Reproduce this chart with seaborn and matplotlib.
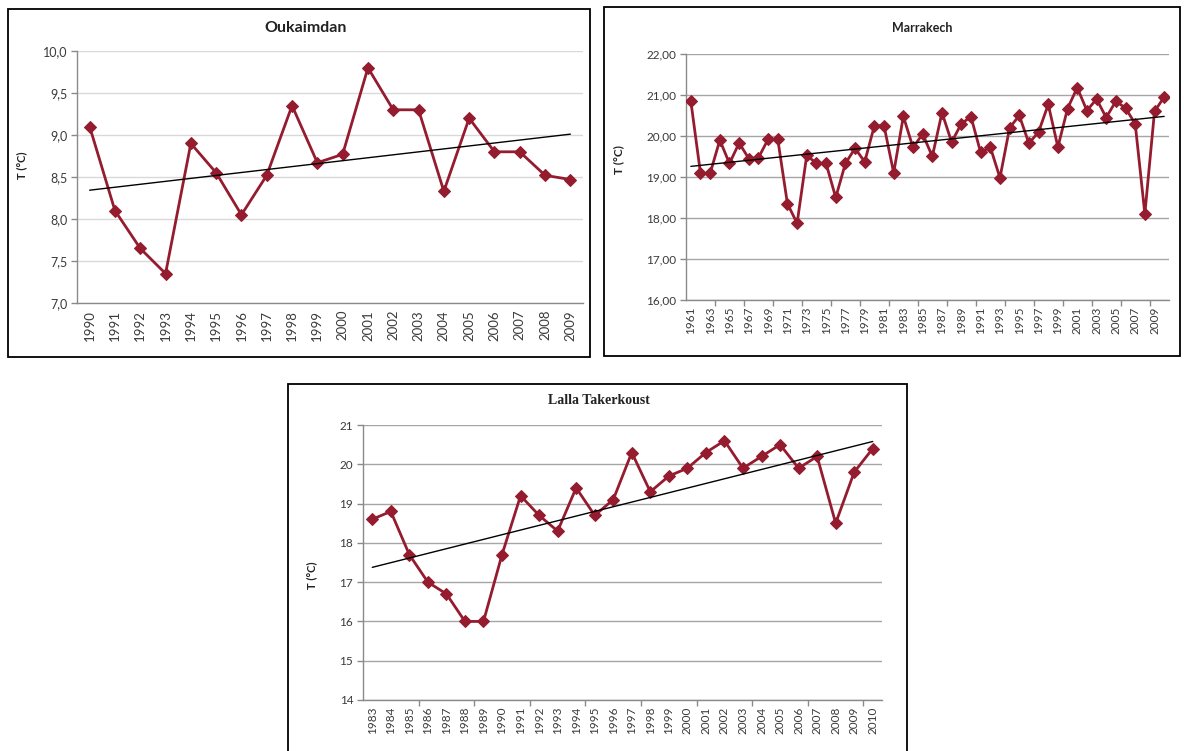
import numpy as np
import pandas as pd
import matplotlib
matplotlib.use("Agg")
import matplotlib.pyplot as plt
import seaborn as sns
from matplotlib.ticker import FuncFormatter, FixedLocator
from matplotlib.patches import Rectangle

# ---------------- data ----------------
ouk_years = list(range(1990, 2010))
ouk_temp = [9.10, 8.10, 7.65, 7.35, 8.90, 8.55, 8.05, 8.52, 9.35, 8.67,
            8.77, 9.80, 9.30, 9.30, 8.33, 9.20, 8.80, 8.80, 8.52, 8.47]

mar_years = list(range(1961, 2011))
mar_temp = [20.85, 19.09, 19.09, 19.90, 19.33, 19.83, 19.45, 19.47, 19.92, 19.92,
            18.35, 17.87, 19.53, 19.33, 19.33, 18.50, 19.33, 19.70, 19.37, 20.25,
            20.25, 19.10, 20.48, 19.72, 20.05, 19.50, 20.57, 19.85, 20.30, 20.47,
            19.60, 19.73, 18.98, 20.20, 20.50, 19.82, 20.10, 20.77, 19.73, 20.67,
            21.18, 20.62, 20.90, 20.45, 20.85, 20.68, 20.30, 18.10, 20.60, 20.95]

lal_years = list(range(1983, 2011))
lal_temp = [18.6, 18.8, 17.7, 17.0, 16.7, 16.0, 16.0, 17.7, 19.2, 18.7,
            18.3, 19.4, 18.7, 19.1, 20.3, 19.3, 19.7, 19.9, 20.3, 20.6,
            19.9, 20.2, 20.5, 19.9, 20.2, 18.5, 19.8, 20.4]

titles = ["Oukaimdan", "Marrakech", "Lalla Takerkoust"]
ylabel = "T (°C)"

# ---------------- style ----------------
sns.set_theme(style="white")
plt.rcParams['font.family'] = ['Lato', 'DejaVu Sans']

W, H = 1184, 751
fig = plt.figure(figsize=(W / 100, H / 100), dpi=100)
fig.patch.set_facecolor("white")

RED = "#951b2f"
TXT = "#3a3a3a"


def px_axes(l, t, r, b):
    return fig.add_axes([l / W, 1 - b / H, (r - l) / W, (b - t) / H])


def border(l, t, r, b):
    fig.add_artist(Rectangle((l / W, 1 - b / H), (r - l) / W, (b - t) / H,
                             transform=fig.transFigure, fill=False,
                             ec="black", lw=1.3))


def panel(ax, years, temps, ylim, ystep, decimals, label_step, tick_group,
          grid_color, tick_fs, xtick_fs):
    n = len(years)
    x = np.arange(n)
    df = pd.DataFrame({"x": x, "t": temps})
    sns.lineplot(data=df, x="x", y="t", ax=ax, color=RED, marker="D",
                 markersize=6.5, markeredgecolor=RED, linewidth=2.0, zorder=3)
    sns.regplot(data=df, x="x", y="t", ax=ax, scatter=False, ci=None,
                color="black", line_kws=dict(linewidth=1.0, zorder=4))
    ax.set_xlim(-0.5, n - 0.5)
    ax.set_ylim(*ylim)
    yt = np.arange(ylim[0], ylim[1] + ystep / 2, ystep)
    ax.set_yticks(yt)
    ax.yaxis.set_major_formatter(FuncFormatter(
        lambda v, p: f"{v:.{decimals}f}".replace(".", ",")))
    ax.yaxis.grid(True, color=grid_color, lw=1.0)
    ax.set_axisbelow(True)
    for s in ["top", "right"]:
        ax.spines[s].set_visible(False)
    for s in ["left", "bottom"]:
        ax.spines[s].set_color("#8a8a8a")
        ax.spines[s].set_linewidth(1.0)
    ax.set_xticks(x[::label_step])
    ax.set_xticklabels([str(y) for y in years[::label_step]], rotation=90)
    ax.tick_params(axis="x", which="major", length=0, pad=5,
                   labelsize=xtick_fs, labelcolor=TXT)
    if tick_group:
        ax.xaxis.set_minor_locator(FixedLocator(
            np.arange(tick_group - 0.5, n - 0.5, tick_group)))
        ax.tick_params(axis="x", which="minor", length=4, color="#8a8a8a",
                       width=1, direction="out", bottom=True)
    ax.tick_params(axis="y", length=4, color="#8a8a8a", width=1,
                   direction="out", left=True, labelsize=tick_fs,
                   labelcolor=TXT, pad=3)
    ax.set_xlabel("")
    ax.set_ylabel("")


# Panel 1 - Oukaimdan
border(8, 9, 590, 357)
ax1 = px_axes(77, 51, 583, 303)
panel(ax1, ouk_years, ouk_temp, (7.0, 10.0), 0.5, 1, 1, 0, "#d9d9d9", 9, 9.5)
fig.text(306 / W, 1 - 28 / H, titles[0], ha="center", va="center",
         fontsize=11.5, fontweight="bold", color="#222222")
fig.text(22 / W, 1 - 165 / H, ylabel, ha="center", va="center", rotation=90,
         fontsize=8, fontweight="bold", color="#222222")

# Panel 2 - Marrakech
border(604, 7, 1180, 356)
ax2 = px_axes(686, 54, 1169, 300)
panel(ax2, mar_years, mar_temp, (16.0, 22.0), 1.0, 2, 2, 3, "#a6a6a6", 8.5, 8.5)
fig.text(922 / W, 1 - 28 / H, titles[1], ha="center", va="center",
         fontsize=9, fontweight="bold", color="#222222")
fig.text(619 / W, 1 - 160 / H, ylabel, ha="center", va="center", rotation=90,
         fontsize=8.5, fontweight="bold", color="#222222")

# Panel 3 - Lalla Takerkoust
border(288, 384, 907, 760)
ax3 = px_axes(363, 425, 882, 700)
panel(ax3, lal_years, lal_temp, (14, 21), 1, 0, 1, 3, "#a6a6a6", 8.5, 8.5)
fig.text(599 / W, 1 - 401 / H, titles[2], ha="center", va="center",
         fontsize=10, fontweight="bold", color="#222222",
         family=["Liberation Serif", "DejaVu Serif"])
fig.text(312 / W, 1 - 575 / H, ylabel, ha="center", va="center", rotation=90,
         fontsize=8, fontweight="bold", color="#222222")

fig.savefig("out.png", dpi=100, facecolor="white")
